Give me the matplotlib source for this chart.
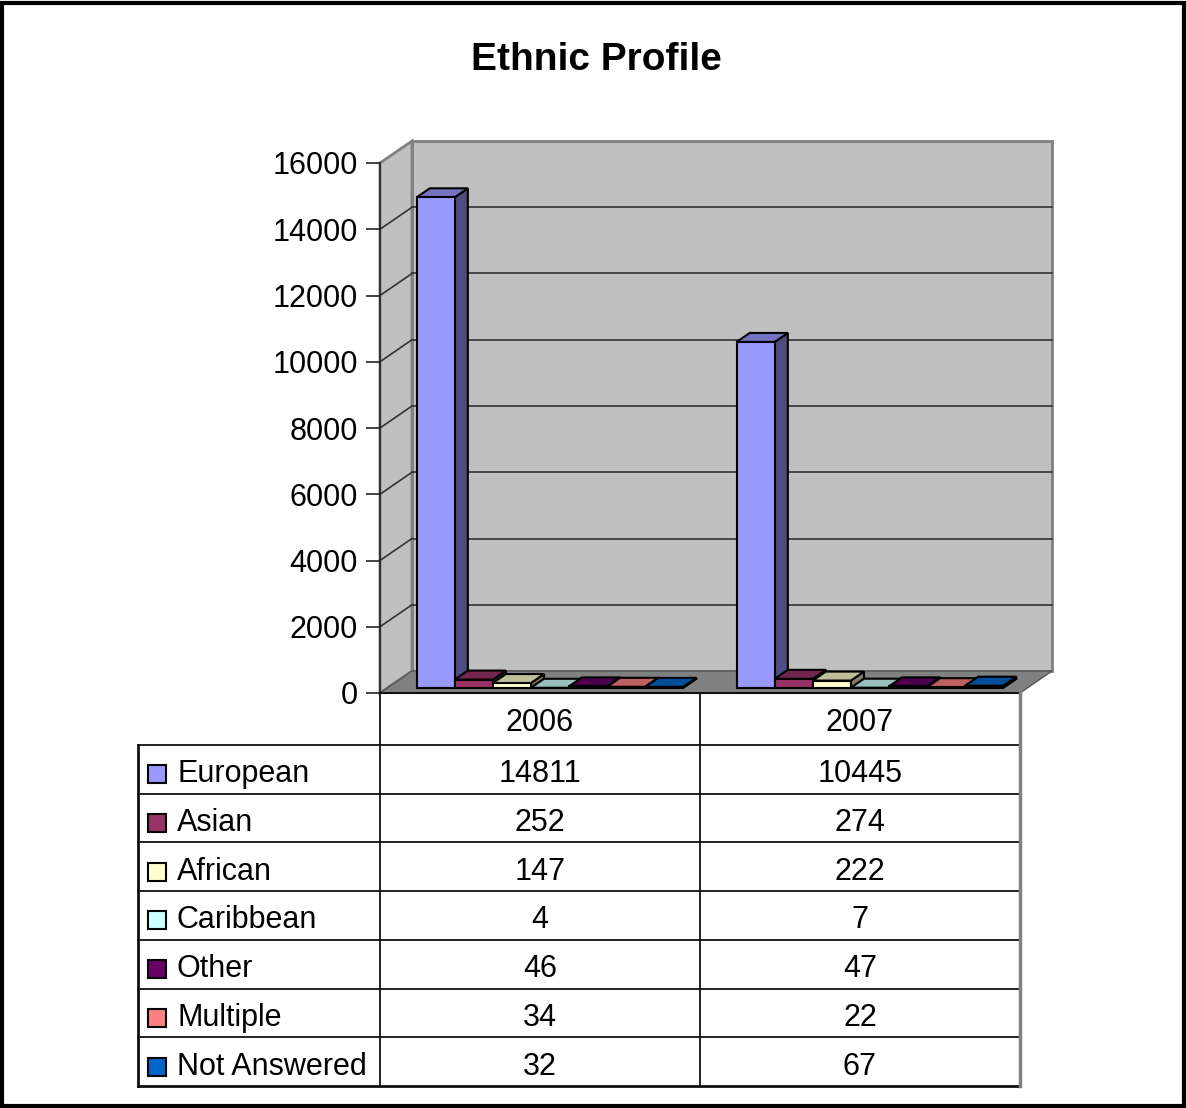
import matplotlib.pyplot as plt
from matplotlib.patches import Polygon, Rectangle
from matplotlib.colors import to_rgb

plt.rcParams['font.family'] = ['Liberation Sans', 'DejaVu Sans']

# data
years = ['2006', '2007']
groups = ['European', 'Asian', 'African', 'Caribbean', 'Other', 'Multiple', 'Not Answered']
values_2006 = [14811, 252, 147, 4, 46, 34, 32]
values_2007 = [10445, 274, 222, 7, 47, 22, 67]
colors = ['#9999FF', '#993366', '#FFFFCC', '#CCFFFF', '#660066', '#FF8080', '#0066CC']
yticks = [0, 2000, 4000, 6000, 8000, 10000, 12000, 14000, 16000]

W, H = 1186, 1108
fig = plt.figure(figsize=(W / 100, H / 100), dpi=100)


def box(l, t, r, b):
    # pixel box -> figure fraction
    return [l / W, 1 - b / H, (r - l) / W, (b - t) / H]


def shade(c, k):
    r, g, b = to_rgb(c)
    return (r * k, g * k, b * k)


# border + title
fig.add_artist(Rectangle((2 / W, 2 / H), 1 - 4 / W, 1 - 5 / H, transform=fig.transFigure,
                         fill=False, ec='black', lw=3))
fig.text(596 / W, 1 - 60 / H, 'Ethnic Profile', ha='center', va='center',
         fontsize=28, fontweight='bold')

# ---- 3D-ish bar chart ----
ax = fig.add_axes(box(380, 163, 1020, 693))
ymax = yticks[-1]
ncat = len(years)
ax.set_xlim(0, ncat)
ax.set_ylim(0, ymax)

# depth of the box (32px right, 22px up)
dx = ncat * 32 / 640
dy = ymax * 22 / 530

wall = '#C0C0C0'
edge = '#808080'
# back wall
ax.add_patch(Polygon([(dx, dy), (ncat + dx, dy), (ncat + dx, ymax + dy), (dx, ymax + dy)],
                     closed=True, fc=wall, ec=edge, lw=2, clip_on=False, zorder=1))
# left wall
ax.add_patch(Polygon([(0, 0), (dx, dy), (dx, ymax + dy), (0, ymax)],
                     closed=True, fc=wall, ec=edge, lw=2, clip_on=False, zorder=1))
# floor
ax.add_patch(Polygon([(0, 0), (ncat, 0), (ncat + dx, dy), (dx, dy)],
                     closed=True, fc='#808080', ec='#555555', lw=1, clip_on=False, zorder=2))

# gridlines
for t in yticks[1:-1]:
    ax.plot([dx, ncat + dx], [t + dy, t + dy], color='#333333', lw=1.2, zorder=2, clip_on=False)
    ax.plot([0, dx], [t, t + dy], color='#333333', lw=1.2, zorder=2, clip_on=False)

# bars
w = 0.119
f0, f1 = 0.23, 0.64
fx, fy = f0 * dx, f0 * dy
bx, by = f1 * dx, f1 * dy
z = 3
for i, vals in enumerate([values_2006, values_2007]):
    left = i + 0.5 - 3.5 * w + 0.031
    for j, v in enumerate(vals):
        c = colors[j]
        x0 = left + j * w
        x1 = x0 + w
        bdx = bx - fx
        side = [(x1, fy), (x1 + bdx, by), (x1 + bdx, v + by), (x1, v + fy)]
        top = [(x0, v + fy), (x1, v + fy), (x1 + bdx, v + by), (x0 + bdx, v + by)]
        front = [(x0, fy), (x1, fy), (x1, v + fy), (x0, v + fy)]
        ax.add_patch(Polygon(side, closed=True, fc=shade(c, 0.5), ec='black', lw=1.5, zorder=z, clip_on=False))
        ax.add_patch(Polygon(top, closed=True, fc=shade(c, 0.75), ec='black', lw=1.5, zorder=z, clip_on=False))
        ax.add_patch(Polygon(front, closed=True, fc=c, ec='black', lw=1.5, zorder=z, clip_on=False))
        z += 1

for s in ['top', 'right', 'bottom']:
    ax.spines[s].set_visible(False)
ax.spines['left'].set_color('#222222')
ax.spines['left'].set_linewidth(1.2)
ax.spines['left'].set_zorder(50)
ax.set_xticks([])
ax.set_yticks(yticks)
ax.tick_params(axis='y', direction='out', length=10, width=1.2, color='#222222',
               labelsize=22, pad=6)
ax.patch.set_visible(False)

# ---- data table ----
tx = fig.add_axes(box(138, 693, 1020, 1086))
lab_w = 242 / 320
nrow = len(groups)
hdr = 1.068  # header row is a bit taller
tx.set_xlim(-lab_w, ncat)
tx.set_ylim(nrow, -hdr)
tx.axis('off')

lc = '#111111'
tx.plot([0, ncat], [-hdr, -hdr], color=lc, lw=1.5, clip_on=False)
for r in range(0, nrow + 1):
    tx.plot([-lab_w, ncat], [r, r], color=lc, lw=1.3 if r < nrow else 2, clip_on=False)
tx.plot([-lab_w, -lab_w], [0, nrow], color=lc, lw=2, clip_on=False)
tx.plot([0, 0], [-hdr, nrow], color=lc, lw=1.3, clip_on=False)
for i in range(1, ncat):
    tx.plot([i, i], [-hdr, nrow], color=lc, lw=1.3, clip_on=False)
tx.plot([ncat, ncat], [-hdr, nrow], color='#808080', lw=2.5, clip_on=False)

for i, yr in enumerate(years):
    tx.text(i + 0.5, -hdr / 2 + 0.09, yr, ha='center', va='center', fontsize=22)
for j, g in enumerate(groups):
    r = j + 0.6
    tx.plot([(157 - 380) / 320], [r], marker='s', ms=12.5, mfc=colors[j], mec='black',
            mew=1.5, clip_on=False)
    tx.text((177 - 380) / 320, r, g, ha='left', va='center', fontsize=22)
    tx.text(0.5, r, str(values_2006[j]), ha='center', va='center', fontsize=22)
    tx.text(1.5, r, str(values_2007[j]), ha='center', va='center', fontsize=22)

fig.savefig('out.png', dpi=100)
